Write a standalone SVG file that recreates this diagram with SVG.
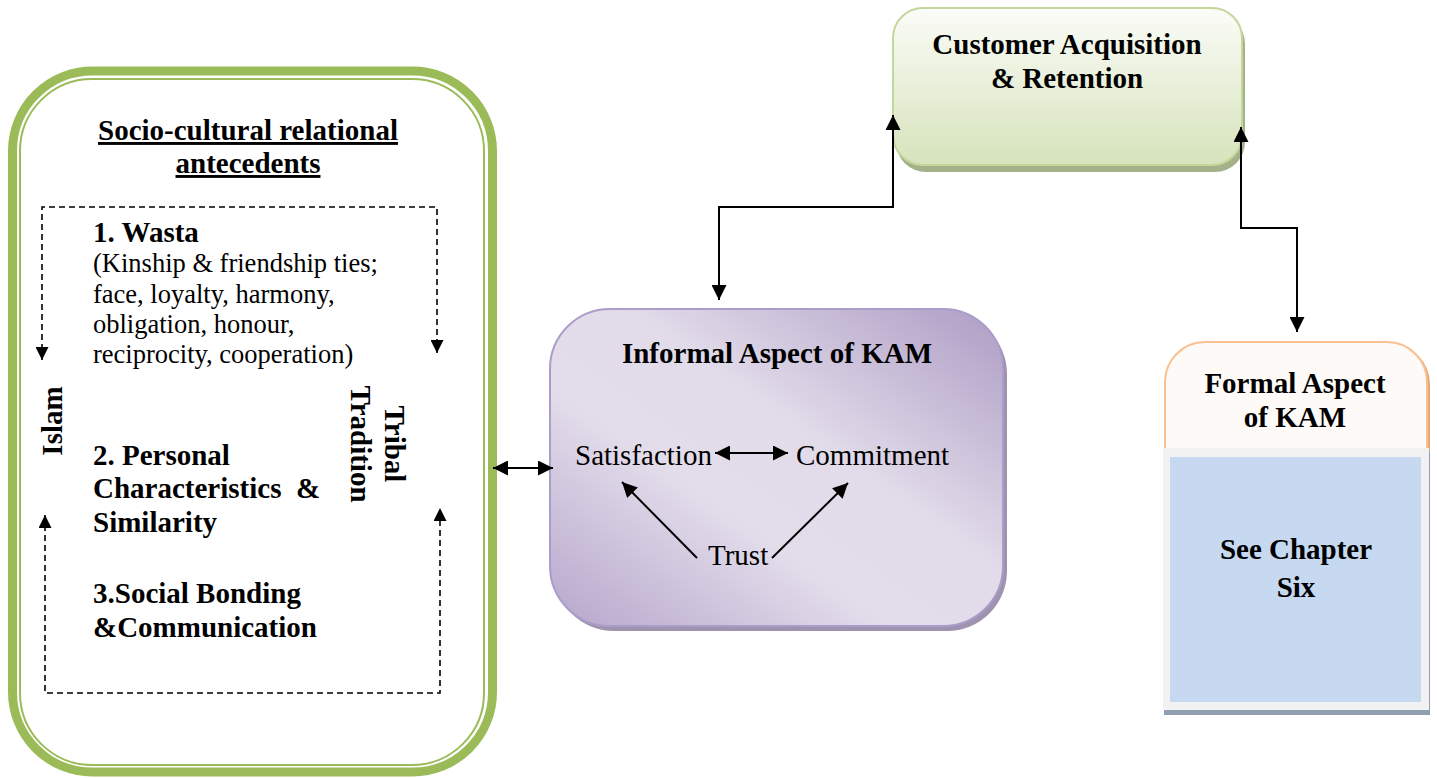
<svg xmlns="http://www.w3.org/2000/svg" width="1437" height="778" viewBox="0 0 1437 778">
  <defs>
    <style>
      .bold { font-family: "Liberation Serif", "Times New Roman", serif; font-weight: bold; font-size: 29px; fill: #000; }
      .reg { font-family: "Liberation Serif", "Times New Roman", serif; font-size: 29px; fill: #000; }
      .small { font-family: "Liberation Serif", "Times New Roman", serif; font-size: 26.5px; fill: #000; }
      .mid { text-anchor: middle; }
      .conn { fill: none; stroke: #000; stroke-width: 2; }
      .dash { fill: none; stroke: #000; stroke-width: 1.6; stroke-dasharray: 6 4; }
    </style>
    <marker id="arrow" viewBox="0 0 10 10" refX="10" refY="5" markerWidth="15" markerHeight="15" markerUnits="userSpaceOnUse" orient="auto-start-reverse">
      <path d="M0,0 L10,5 L0,10 z" fill="#000"/>
    </marker>
    <marker id="arrowSmall" viewBox="0 0 10 10" refX="10" refY="5" markerWidth="14" markerHeight="13" markerUnits="userSpaceOnUse" orient="auto-start-reverse">
      <path d="M0,0 L10,5 L0,10 z" fill="#000"/>
    </marker>
    <linearGradient id="purpleFill" x1="1" y1="0" x2="0" y2="1">
      <stop offset="0" stop-color="#ad9cc4"/>
      <stop offset="0.42" stop-color="#e2dcea"/>
      <stop offset="0.62" stop-color="#e3ddeb"/>
      <stop offset="1" stop-color="#b6a6cb"/>
    </linearGradient>
    <linearGradient id="greenFill" x1="0" y1="0" x2="0" y2="1">
      <stop offset="0" stop-color="#fbfcf8"/>
      <stop offset="1" stop-color="#d6e3bb"/>
    </linearGradient>
  </defs>

  <rect width="1437" height="778" fill="#fff"/>

  <!-- Socio-cultural antecedents panel -->
  <g id="socio-cultural">
    <rect x="12.5" y="71" width="480" height="701" rx="80" ry="80" fill="#fff" stroke="#9bbb59" stroke-width="9"/>
    <rect x="20" y="79" width="464" height="686" rx="72" ry="72" fill="none" stroke="#9bbb59" stroke-width="2"/>
    <text class="bold mid" x="248" y="140" text-decoration="underline">Socio-cultural relational</text>
    <text class="bold mid" x="248" y="173" text-decoration="underline">antecedents</text>
    <text class="bold" x="93" y="242">1. Wasta</text>
    <text class="small" x="93" y="272">(Kinship &amp; friendship ties;</text>
    <text class="small" x="93" y="303">face, loyalty, harmony,</text>
    <text class="small" x="93" y="333">obligation, honour,</text>
    <text class="small" x="93" y="363">reciprocity, cooperation)</text>
    <text class="bold" x="93" y="465">2. Personal</text>
    <text class="bold" x="93" y="498" xml:space="preserve">Characteristics  &amp;</text>
    <text class="bold" x="93" y="532">Similarity</text>
    <text class="bold" x="93" y="603">3.Social Bonding</text>
    <text class="bold" x="93" y="637">&amp;Communication</text>
    <text class="bold mid" transform="translate(62,421) rotate(-90)">Islam</text>
    <text class="bold mid" transform="translate(385,444) rotate(90)">Tribal</text>
    <text class="bold mid" transform="translate(351,444) rotate(90)">Tradition</text>
    <polyline class="dash" points="42,360 42,207 437,207 437,353" marker-start="url(#arrowSmall)" marker-end="url(#arrowSmall)"/>
    <polyline class="dash" points="45,515 45,693 440,693 440,508" marker-start="url(#arrowSmall)" marker-end="url(#arrowSmall)"/>
  </g>

  <!-- Informal aspect of KAM -->
  <g id="informal-kam">
    <rect x="554" y="314" width="453" height="317" rx="60" ry="60" fill="#9f93b0"/>
    <rect x="550" y="309" width="453" height="317" rx="60" ry="60" fill="url(#purpleFill)" stroke="#ab9dc9" stroke-width="2"/>
    <text class="bold mid" x="777" y="363">Informal Aspect of KAM</text>
    <text class="reg" x="575" y="465">Satisfaction</text>
    <text class="reg" x="796" y="465">Commitment</text>
    <text class="reg" x="708" y="565">Trust</text>
  </g>

  <!-- Customer acquisition & retention -->
  <g id="customer">
    <rect x="896" y="14" width="349" height="158" rx="30" ry="30" fill="#a5b189"/>
    <rect x="893" y="8" width="349" height="157" rx="30" ry="30" fill="url(#greenFill)" stroke="#c3d69b" stroke-width="2"/>
    <text class="bold mid" x="1067" y="54">Customer Acquisition</text>
    <text class="bold mid" x="1067" y="88">&amp; Retention</text>
  </g>

  <!-- Formal aspect of KAM -->
  <g id="formal-kam">
    <rect x="1168" y="344" width="262" height="150" rx="40" ry="40" fill="#e3a878"/>
    <rect x="1165" y="342" width="262" height="150" rx="40" ry="40" fill="#fefaf7" stroke="#fac090" stroke-width="2"/>
    <rect x="1164" y="451" width="266" height="264" fill="#909fb2"/>
    <rect x="1163" y="448" width="266" height="262" fill="#f2f2f2"/>
    <rect x="1170" y="457" width="251" height="245" fill="#c6d9f1"/>
    <text class="bold mid" x="1295" y="393">Formal Aspect</text>
    <text class="bold mid" x="1295" y="427">of KAM</text>
    <text class="bold mid" x="1296" y="559">See Chapter</text>
    <text class="bold mid" x="1296" y="597">Six</text>
  </g>

  <!-- Connectors -->
  <g id="connectors">
    <line class="conn" x1="493" y1="468" x2="553" y2="468" marker-start="url(#arrow)" marker-end="url(#arrow)"/>
    <polyline class="conn" points="719,300 719,207 893,207 893,115" marker-start="url(#arrow)" marker-end="url(#arrow)"/>
    <polyline class="conn" points="1241,127 1241,228 1297,228 1297,332" marker-start="url(#arrow)" marker-end="url(#arrow)"/>
    <line class="conn" x1="715" y1="453" x2="788" y2="453" marker-start="url(#arrow)" marker-end="url(#arrow)"/>
    <line class="conn" x1="697" y1="558" x2="622" y2="482" marker-end="url(#arrow)"/>
    <line class="conn" x1="772" y1="558" x2="848" y2="483" marker-end="url(#arrow)"/>
  </g>
</svg>
